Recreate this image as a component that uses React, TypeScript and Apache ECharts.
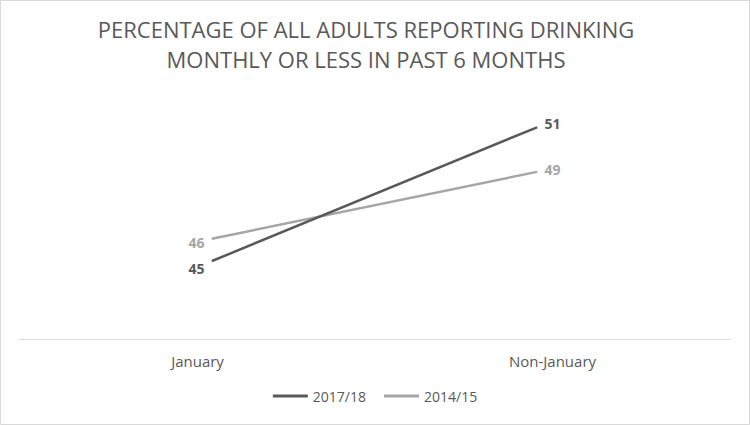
import React, { useEffect, useRef } from "react";
import * as echarts from "echarts";

const categories = ["January", "Non-January"];
const series2017 = [45, 51];
const series2014 = [46, 49];
const seriesNames = ["2017/18", "2014/15"];
const titleLines = ["PERCENTAGE OF ALL ADULTS REPORTING DRINKING", "MONTHLY OR LESS IN PAST 6 MONTHS"];

const DARK = "#595959";
const LIGHT = "#a6a6a6";
const FONT = "'Open Sans', sans-serif";

export default function App() {
  const ref = useRef<HTMLDivElement>(null);
  useEffect(() => {
    document.body.style.margin = "0";
    const chart = echarts.init(ref.current!, undefined, { renderer: "svg" });
    const mkLabel = (color: string) => ({
      show: true,
      fontFamily: FONT,
      fontWeight: "bold",
      fontSize: 14,
      color,
    });
    const mkData = (vals: number[], dys: number[]) =>
      vals.map((v, i) => ({
        value: v,
        label: {
          position: i === 0 ? "left" : "right",
          distance: 7,
          offset: [0, dys[i]],
        },
      }));
    chart.setOption({
      animation: false,
      textStyle: { fontFamily: FONT },
      graphic: [
        {
          type: "rect",
          shape: { x: 0.5, y: 0.5, width: 749, height: 424 },
          style: { fill: "none", stroke: "#d9d9d9", lineWidth: 1 },
          silent: true,
        },
        {
          type: "text",
          x: 366,
          y: 29,
          style: {
            text: titleLines[0],
            fill: DARK,
            font: `22px ${FONT}`,
            align: "center",
            verticalAlign: "middle",
          },
        },
        {
          type: "text",
          x: 366,
          y: 59,
          style: {
            text: titleLines[1],
            fill: DARK,
            font: `22px ${FONT}`,
            align: "center",
            verticalAlign: "middle",
          },
        },
      ],
      legend: {
        data: seriesNames,
        bottom: 17,
        left: "center",
        icon: "rect",
        itemWidth: 35,
        itemHeight: 3,
        itemGap: 18,
        textStyle: { color: DARK, fontSize: 14, fontFamily: FONT },
      },
      grid: [
        { left: 49.5, right: 50.5, top: 105, bottom: 86 },
        { left: 20, right: 20, top: 105, bottom: 86 },
      ],
      xAxis: [
        {
          type: "category",
          data: categories,
          gridIndex: 0,
          show: false,
        },
        {
          type: "category",
          data: categories,
          gridIndex: 1,
          axisLine: { lineStyle: { color: "#d9d9d9", width: 1 } },
          axisTick: { show: false },
          axisLabel: { color: DARK, fontSize: 15, fontFamily: FONT, margin: 14 },
        },
      ],
      yAxis: [
        { type: "value", gridIndex: 0, min: 41.5, max: 52, show: false },
        { type: "value", gridIndex: 1, min: 41.5, max: 52, show: false },
      ],
      series: [
        {
          name: seriesNames[0],
          type: "line",
          xAxisIndex: 0,
          yAxisIndex: 0,
          data: mkData(series2017, [7, -4]),
          symbol: "circle",
          symbolSize: 1,
          lineStyle: { color: DARK, width: 2.5 },
          itemStyle: { color: DARK },
          label: mkLabel(DARK),
          z: 3,
        },
        {
          name: seriesNames[1],
          type: "line",
          xAxisIndex: 0,
          yAxisIndex: 0,
          data: mkData(series2014, [4, -2]),
          symbol: "circle",
          symbolSize: 1,
          lineStyle: { color: LIGHT, width: 2.5 },
          itemStyle: { color: LIGHT },
          label: mkLabel(LIGHT),
          z: 2,
        },
      ],
    });
    return () => chart.dispose();
  }, []);
  return <div ref={ref} style={{ position: "absolute", left: 0, top: 0, width: 750, height: 425 }} />;
}
